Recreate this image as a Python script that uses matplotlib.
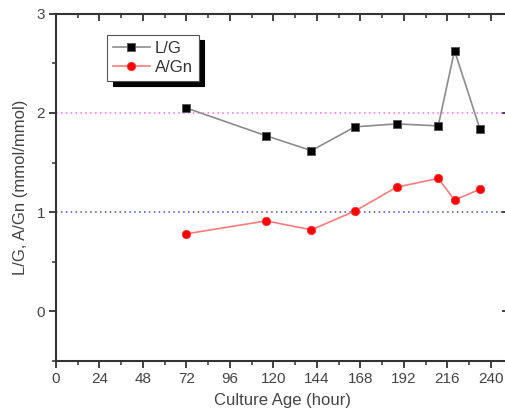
import matplotlib
matplotlib.use("Agg")
import matplotlib.pyplot as plt
from matplotlib.ticker import MultipleLocator

plt.rcParams['font.family'] = ['Liberation Sans', 'DejaVu Sans']

# Culture age (hour) and molar ratios
hours = [72, 116, 141, 165, 188, 211, 220, 234]
lg_ratio = [2.05, 1.77, 1.62, 1.86, 1.89, 1.87, 2.63, 1.84]
agn_ratio = [0.78, 0.91, 0.82, 1.01, 1.25, 1.34, 1.12, 1.23]
x_ticks = [0, 24, 48, 72, 96, 120, 144, 168, 192, 216, 240]
y_ticks = [0, 1, 2, 3]
ref_levels = [2, 1]
ref_colors = ['#ff66ff', '#4444ff']

fig = plt.figure(figsize=(5.06, 4.19), dpi=100)
ax = fig.add_axes([0.1107, 0.1396, 0.895, 0.827])

for lvl, col in zip(ref_levels, ref_colors):
    ax.axhline(lvl, color=col, lw=1.1, linestyle=(0, (1, 2.2)), zorder=1)

ax.plot(hours, lg_ratio, color='#8c8c8c', lw=1.2, marker='s', markersize=5.5,
        markerfacecolor='black', markeredgecolor='#555555', markeredgewidth=0.6,
        label='L/G', zorder=3)
ax.plot(hours, agn_ratio, color='#ff7a7a', lw=1.2, marker='o', markersize=6,
        markerfacecolor='#ff0000', markeredgecolor='#ff3030', markeredgewidth=0.6,
        label='A/Gn', zorder=3)

ax.set_xlim(0, 250)
ax.set_ylim(-0.5, 3)
ax.set_xticks(x_ticks)
ax.set_yticks(y_ticks)
ax.xaxis.set_minor_locator(MultipleLocator(12))
ax.yaxis.set_minor_locator(MultipleLocator(0.5))

for s in ax.spines.values():
    s.set_linewidth(1.5)
    s.set_color('#333333')

ax.tick_params(axis='both', which='major', direction='out', length=5, width=1.3,
               color='#333333', labelsize=11, labelcolor='#444444', pad=3)
ax.tick_params(axis='both', which='minor', direction='out', length=3, width=1.1,
               color='#333333')

# mirrored ticks on top and right point inward
top = ax.secondary_xaxis('top')
top.set_xticks(x_ticks)
top.xaxis.set_minor_locator(MultipleLocator(12))
top.tick_params(which='major', direction='in', length=5, width=1.3, color='#333333',
                labeltop=False)
top.tick_params(which='minor', direction='in', length=3, width=1.1, color='#333333')
top.spines['top'].set_visible(False)
right = ax.secondary_yaxis('right')
right.set_yticks(y_ticks)
right.yaxis.set_minor_locator(MultipleLocator(0.5))
right.tick_params(which='major', direction='in', length=5, width=1.3, color='#333333',
                  labelright=False)
right.tick_params(which='minor', direction='in', length=3, width=1.1, color='#333333')
right.spines['right'].set_visible(False)

ax.set_xlabel('Culture Age (hour)', fontsize=12, color='#444444', labelpad=5)
ax.set_ylabel('L/G, A/Gn (mmol/mmol)', fontsize=12, color='#444444', labelpad=6)

leg = ax.legend(loc='upper left', bbox_to_anchor=(0.113, 0.94), borderaxespad=0,
                fontsize=12, frameon=True, fancybox=False,
                shadow={'color': 'black', 'alpha': 1.0, 'ox': 4, 'oy': -4},
                handlelength=2.2, handletextpad=0.3, labelspacing=0.25,
                borderpad=0.35)
leg.get_frame().set_edgecolor('#555555')
leg.get_frame().set_linewidth(0.8)
for t in leg.get_texts():
    t.set_color('#333333')

fig.savefig('out.png', dpi=100)
